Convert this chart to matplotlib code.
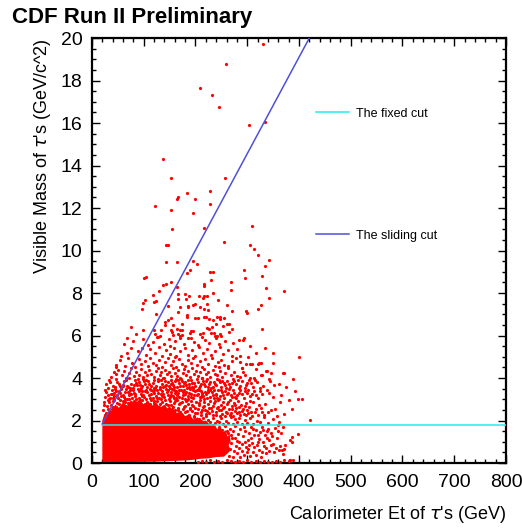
import numpy as np
import matplotlib
matplotlib.use('Agg')
import matplotlib.pyplot as plt
from matplotlib.ticker import MultipleLocator

plt.rcParams['font.family'] = ['Liberation Sans', 'DejaVu Sans']

# tau candidates: (Et [GeV], visible mass [GeV/c^2])
pts_high = [(330, 19.7), (259, 18.76), (208, 17.64), (232, 17.3), (246, 16.75), (303, 15.91),
            (334, 16.05), (138, 14.29), (153, 13.41), (258, 13.41), (184, 12.7), (229, 12.8),
            (167, 12.53), (164, 12.41), (200, 12.44), (228, 12.2), (122, 12.11), (153, 11.89),
            (196, 11.76), (309, 11.16), (155, 11.02), (217, 11.05)]

pts_upper = [(144, 10.28), (147, 10.28), (255, 10.41), (305, 10.28), (313, 10.09), (320, 9.8),
             (343, 9.56), (335, 9.29), (144, 9.48), (165, 9.47), (196, 9.53), (203, 9.35),
             (189, 9.07), (184, 8.96), (228, 9.0), (233, 9.0), (294, 9.07), (296, 8.71),
             (328, 8.82), (100, 8.71), (104, 8.76), (152, 8.5), (144, 8.44), (138, 8.38),
             (165, 8.27), (230, 8.6), (216, 8.43), (216, 8.32), (269, 8.52), (269, 8.16),
             (233, 8.02), (130, 8.1), (117, 7.92), (167, 7.96), (180, 7.96), (188, 7.86),
             (206, 7.85), (216, 7.85), (222, 7.85), (181, 7.74), (167, 7.7), (214, 7.77),
             (223, 7.5), (244, 7.66), (372, 8.08), (342, 7.77), (337, 8.22), (103, 7.67),
             (98, 7.53), (119, 7.59), (124, 7.61), (146, 7.41), (96, 7.25), (171, 7.33),
             (185, 7.35), (186, 7.4), (195, 7.44), (200, 7.47), (209, 7.36), (217, 7.26),
             (225, 7.2), (261, 7.42), (270, 7.14), (297, 7.17), (300, 7.08), (321, 7.23),
             (327, 7.42), (124, 7.01), (167, 7.09), (183, 6.98), (183, 6.89), (153, 6.84),
             (146, 6.75), (156, 6.51), (142, 6.64), (142, 6.48), (200, 6.83), (205, 6.81),
             (217, 6.85), (221, 6.85), (226, 6.78), (234, 6.75), (241, 6.85), (248, 6.85),
             (247, 6.76), (256, 6.83), (260, 6.52), (265, 6.52), (270, 6.32), (254, 6.43),
             (240, 6.54), (222, 6.37), (226, 6.32), (231, 6.38), (174, 6.54), (75, 6.42),
             (85, 6.08), (99, 6.24), (120, 6.27), (134, 6.27), (122, 6.08), (128, 5.93),
             (131, 5.96), (153, 6.27), (154, 6.16), (156, 6.04), (165, 6.31), (170, 6.27),
             (174, 6.24), (167, 6.08), (171, 6.0), (174, 6.03), (189, 6.1), (192, 6.2),
             (196, 6.2), (191, 5.9), (209, 6.07), (214, 6.14), (230, 6.12), (236, 6.12),
             (238, 5.97), (241, 5.97), (248, 6.05), (249, 5.98), (265, 6.16), (328, 6.3),
             (67, 5.88), (293, 5.87)]

pts_mid = [(62, 5.6), (80, 5.72), (99, 5.83), (108, 5.55), (117, 5.7), (125, 5.95), (140, 5.62),
           (148, 5.85), (160, 5.75), (178, 5.6), (186, 5.9), (198, 5.68), (205, 5.55), (218, 5.8),
           (227, 5.63), (239, 5.9), (246, 5.58), (258, 5.72), (272, 5.65), (285, 5.8), (292, 5.77),
           (305, 5.52), (150, 5.51), (170, 5.88), (212, 5.95),
           (67, 5.2), (89, 5.25), (96, 5.4), (104, 5.1), (112, 5.35), (121, 5.2), (129, 5.45),
           (136, 5.05), (143, 5.3), (151, 5.15), (158, 5.42), (163, 5.02), (171, 5.25), (179, 5.4),
           (185, 5.1), (193, 5.33), (199, 5.05), (207, 5.47), (214, 5.2), (222, 5.35), (230, 5.08),
           (238, 5.28), (247, 5.45), (253, 5.12), (262, 5.3), (270, 5.05), (280, 5.38), (287, 5.06),
           (302, 4.98), (317, 5.2), (334, 5.42), (349, 5.17), (401, 4.98), (57, 5.05), (75, 5.4),
           (47, 4.6), (55, 4.85), (63, 4.55), (70, 4.95), (78, 4.7), (84, 4.52), (90, 4.88),
           (95, 4.65), (102, 4.78), (108, 4.55), (113, 4.93), (118, 4.7), (124, 4.6), (130, 4.85),
           (135, 4.52), (141, 4.75), (146, 4.96), (152, 4.62), (157, 4.8), (162, 4.53), (168, 4.9),
           (174, 4.68), (180, 4.57), (185, 4.83), (191, 4.72), (196, 4.95), (202, 4.6), (208, 4.78),
           (213, 4.52), (219, 4.88), (225, 4.66), (231, 4.93), (237, 4.58), (243, 4.75), (250, 4.86),
           (256, 4.62), (263, 4.55), (270, 4.8), (278, 4.92), (290, 4.48), (297, 4.65), (305, 4.65),
           (309, 4.65), (321, 4.64), (323, 4.7), (327, 4.7), (350, 4.72), (287, 4.75), (245, 4.52),
           (160, 4.98),
           (36, 4.05), (42, 4.3), (46, 4.18), (51, 4.4), (58, 4.12), (61, 4.35), (66, 4.02),
           (72, 4.22), (76, 4.45), (81, 4.08), (86, 4.3), (91, 4.15), (94, 4.42), (99, 4.03),
           (103, 4.27), (107, 4.12), (111, 4.38), (115, 4.2), (119, 4.05), (123, 4.33), (127, 4.47),
           (131, 4.15), (134, 4.28), (138, 4.02), (142, 4.4), (145, 4.18), (149, 4.3), (153, 4.08),
           (156, 4.45), (160, 4.22), (164, 4.1), (167, 4.36), (171, 4.02), (175, 4.25), (178, 4.42),
           (182, 4.14), (186, 4.31), (189, 4.05), (193, 4.47), (197, 4.2), (201, 4.35), (205, 4.1),
           (209, 4.28), (213, 4.02), (217, 4.44), (221, 4.17), (225, 4.3), (229, 4.06), (233, 4.38),
           (238, 4.2), (242, 4.12), (247, 4.33), (252, 4.04), (257, 4.26), (262, 4.45), (268, 4.15),
           (274, 4.3), (280, 4.08), (286, 4.05), (289, 4.48), (292, 4.3), (296, 4.15), (306, 4.0),
           (313, 4.0), (317, 4.42), (326, 4.14), (328, 4.14), (336, 4.35), (339, 4.35), (345, 4.26),
           (370, 4.23), (372, 4.26), (46, 4.54)]

pts_low = [(30, 3.55), (35, 3.8), (41, 3.62), (47, 3.95), (52, 3.7), (57, 3.52), (62, 3.86),
           (67, 3.63), (71, 3.98), (75, 3.74), (79, 3.55), (83, 3.9), (87, 3.68), (91, 3.82),
           (95, 3.53), (98, 3.97), (102, 3.71), (106, 3.6), (109, 3.88), (113, 3.5), (117, 3.77),
           (120, 3.93), (124, 3.64), (128, 3.84), (131, 3.56), (135, 3.72), (139, 3.99), (142, 3.61),
           (146, 3.8), (150, 3.54), (153, 3.92), (157, 3.69), (161, 3.85), (164, 3.58), (168, 3.75),
           (172, 3.96), (176, 3.63), (179, 3.81), (183, 3.52), (187, 3.7), (191, 3.89), (194, 3.6),
           (198, 3.78), (202, 3.97), (206, 3.55), (210, 3.73), (214, 3.86), (218, 3.62), (222, 3.94),
           (226, 3.7), (230, 3.53), (235, 3.83), (240, 3.66), (245, 3.91), (250, 3.58), (255, 3.76),
           (261, 3.87), (266, 3.6), (272, 3.95), (278, 3.72), (284, 3.55), (290, 3.85), (297, 3.68),
           (304, 3.93), (311, 3.6), (319, 3.8), (342, 3.95), (344, 3.87), (361, 3.74), (389, 3.95),
           (60, 3.67), (73, 3.52), (85, 3.75), (93, 3.66), (100, 3.86), (111, 3.72), (122, 3.52),
           (133, 3.9), (144, 3.68), (155, 3.78), (166, 3.93), (177, 3.75), (188, 3.58), (200, 3.64),
           (212, 3.98), (224, 3.58), (237, 3.74), (248, 3.8), (259, 3.53), (270, 3.78), (282, 3.9),
           (295, 3.52), (308, 3.77), (330, 3.62), (38, 3.25), (60, 3.63),
           (27, 3.72), (33, 3.9), (44, 3.58), (49, 3.83), (55, 3.64), (65, 3.93), (69, 3.57),
           (82, 3.66), (89, 3.94), (97, 3.62), (104, 3.93), (115, 3.61), (119, 3.55), (127, 3.97),
           (137, 3.57), (141, 3.86), (148, 3.63), (152, 3.74), (159, 3.56), (163, 3.95), (170, 3.62),
           (174, 3.86), (181, 3.69), (185, 3.91), (193, 3.75), (196, 3.52), (204, 3.82), (208, 3.62),
           (216, 3.7), (220, 3.88), (228, 3.8), (233, 3.6), (242, 3.97), (252, 3.88), (257, 3.65),
           (264, 3.73), (275, 3.85), (287, 3.62), (300, 3.75), (315, 3.92), (325, 3.55), (352, 3.66),
           (375, 3.6),
           (25, 3.1), (28, 3.35), (32, 3.02), (36, 3.25), (38, 3.45), (43, 3.15), (46, 3.38),
           (50, 3.05), (54, 3.28), (57, 3.47), (61, 3.12), (64, 3.33), (68, 3.03), (71, 3.22),
           (74, 3.44), (78, 3.08), (81, 3.3), (84, 3.17), (88, 3.48), (91, 3.06), (94, 3.27),
           (97, 3.4), (101, 3.13), (104, 3.01), (107, 3.35), (110, 3.2), (114, 3.46), (117, 3.08),
           (120, 3.31), (123, 3.15), (126, 3.42), (130, 3.04), (133, 3.25), (136, 3.37), (140, 3.1),
           (143, 3.49), (146, 3.22), (149, 3.02), (153, 3.34), (156, 3.16), (159, 3.43), (163, 3.07),
           (166, 3.29), (169, 3.12), (172, 3.45), (176, 3.2), (179, 3.03), (182, 3.36), (186, 3.14),
           (189, 3.48), (192, 3.26), (196, 3.05), (199, 3.38), (203, 3.18), (206, 3.44), (210, 3.09),
           (213, 3.31), (217, 3.01), (220, 3.23), (224, 3.46), (228, 3.12), (231, 3.35), (235, 3.06),
           (239, 3.27), (243, 3.42), (247, 3.14), (251, 3.32), (256, 3.04), (260, 3.24), (265, 3.47),
           (270, 3.1), (275, 3.3), (281, 3.18), (287, 3.42), (293, 3.07), (299, 3.28), (306, 3.15),
           (313, 3.38), (321, 3.06), (329, 3.25), (338, 3.45), (350, 3.12), (393, 3.4), (366, 3.2),
           (40, 3.06), (48, 3.2), (56, 3.14), (66, 3.47), (76, 3.24), (86, 3.02), (96, 3.17),
           (105, 3.44), (115, 3.27), (125, 3.05), (135, 3.15), (145, 3.33), (155, 3.49), (165, 3.2),
           (175, 3.32), (185, 3.03), (195, 3.43), (205, 3.27), (215, 3.15), (225, 3.33), (236, 3.45),
           (246, 3.03), (258, 3.37), (268, 3.2), (279, 3.04), (290, 3.23), (302, 3.45), (316, 3.18),
           (90, 3.38), (150, 3.1), (210, 3.4), (240, 3.18), (180, 3.24), (120, 3.46), (70, 3.36),
           (160, 3.3),
           (26, 3.42), (31, 3.22), (35, 3.05), (42, 3.31), (45, 3.48), (52, 3.4), (59, 3.22),
           (63, 3.01), (72, 3.31), (79, 3.43), (83, 3.26), (92, 3.45), (99, 3.22), (103, 3.38),
           (112, 3.05), (118, 3.38), (128, 3.28), (131, 3.48), (138, 3.23), (147, 3.45), (152, 3.2),
           (158, 3.06), (162, 3.38), (168, 3.45), (174, 3.08), (178, 3.42), (188, 3.3), (191, 3.1),
           (198, 3.22), (202, 3.46), (208, 3.13), (212, 3.21), (219, 3.36), (222, 3.05), (229, 3.44),
           (234, 3.2), (242, 3.07), (249, 3.43), (254, 3.18), (263, 3.3), (272, 3.42), (277, 3.12),
           (285, 3.3), (296, 3.4), (310, 3.25), (325, 3.4), (343, 3.3)]

pts_near_cut = [(22, 2.5), (24, 2.85), (27, 2.35), (29, 2.68), (31, 2.95), (34, 2.42), (36, 2.75),
                (39, 2.56), (41, 2.9), (44, 2.3), (46, 2.63), (49, 2.82), (51, 2.45), (54, 2.97),
                (56, 2.58), (59, 2.72), (61, 2.38), (64, 2.88), (66, 2.52), (69, 2.66), (71, 2.99),
                (74, 2.41), (76, 2.78), (79, 2.55), (81, 2.92), (84, 2.33), (86, 2.7), (89, 2.48),
                (91, 2.84), (94, 2.61), (96, 2.96), (99, 2.37), (101, 2.74), (104, 2.53), (106, 2.89),
                (109, 2.44), (111, 2.67), (114, 2.98), (116, 2.57), (119, 2.81), (121, 2.4), (124, 2.69),
                (126, 2.93), (129, 2.5), (131, 2.77), (134, 2.36), (136, 2.86), (139, 2.62), (141, 2.95),
                (144, 2.46), (146, 2.73), (149, 2.58), (151, 2.9), (154, 2.34), (156, 2.65), (159, 2.83),
                (161, 2.49), (164, 2.97), (166, 2.6), (169, 2.76), (171, 2.39), (174, 2.88), (176, 2.54),
                (179, 2.7), (181, 2.94), (184, 2.43), (186, 2.79), (189, 2.59), (191, 2.91), (194, 2.47),
                (196, 2.68), (199, 2.35), (201, 2.85), (204, 2.55), (206, 2.73), (209, 2.98), (211, 2.42),
                (214, 2.64), (216, 2.87), (219, 2.51), (221, 2.31), (224, 2.76), (226, 2.6), (229, 2.92),
                (231, 2.45), (234, 2.69), (236, 2.83), (239, 2.38), (241, 2.57), (244, 2.95), (246, 2.48),
                (249, 2.72), (251, 2.33), (254, 2.86), (256, 2.62), (259, 2.41), (261, 2.78), (264, 2.52),
                (266, 2.96), (269, 2.36), (271, 2.67), (274, 2.84), (276, 2.45), (279, 2.6), (282, 2.9),
                (285, 2.4), (288, 2.73), (291, 2.55), (294, 2.3), (297, 2.82), (300, 2.5), (304, 2.65),
                (308, 2.38), (312, 2.88), (317, 2.55), (322, 2.72), (328, 2.42), (335, 2.8), (345, 2.5),
                (354, 2.55), (371, 2.33), (386, 2.53), (421, 2.03), (380, 2.96), (399, 2.99), (406, 2.99),
                (23, 2.72), (26, 2.25), (30, 2.55), (33, 2.87), (37, 2.27), (40, 2.65), (43, 2.98),
                (47, 2.52), (50, 2.29), (53, 2.77), (57, 2.4), (60, 2.93), (63, 2.6), (67, 2.26),
                (70, 2.83), (73, 2.55), (77, 2.35), (80, 2.66), (83, 2.86), (87, 2.28), (90, 2.58),
                (93, 2.95), (97, 2.45), (100, 2.22), (103, 2.8), (107, 2.62), (110, 2.32), (113, 2.76),
                (117, 2.43), (120, 2.9), (123, 2.53), (127, 2.27), (130, 2.64), (133, 2.99), (137, 2.48),
                (140, 2.3), (143, 2.8), (147, 2.55), (150, 2.25), (153, 2.71), (157, 2.41), (160, 2.92),
                (163, 2.29), (167, 2.5), (170, 2.82), (173, 2.24), (177, 2.63), (180, 2.4), (183, 2.96),
                (187, 2.27), (190, 2.52), (193, 2.74), (197, 2.22), (200, 2.6), (203, 2.37), (207, 2.81),
                (210, 2.25), (213, 2.5), (217, 2.7), (220, 2.21), (223, 2.45), (227, 2.35), (230, 2.58),
                (233, 2.24), (237, 2.93), (240, 2.28), (243, 2.66), (247, 2.2), (250, 2.5), (253, 2.6),
                (257, 2.23), (260, 2.37), (263, 2.88), (267, 2.27), (270, 2.52), (273, 2.2), (277, 2.73),
                (280, 2.35), (284, 2.62), (287, 2.24), (290, 2.45), (295, 2.7), (298, 2.25), (302, 2.35),
                (306, 2.93), (310, 2.2), (315, 2.4), (320, 2.28), (326, 2.6), (332, 2.25), (340, 2.38),
                (358, 2.2), (364, 2.85),
                (152, 2.05), (158, 2.15), (163, 1.98), (168, 2.12), (174, 2.02), (178, 2.18), (183, 1.96),
                (188, 2.1), (193, 2.0), (197, 2.16), (202, 1.9), (206, 2.06), (211, 1.98), (215, 2.14),
                (220, 1.86), (224, 2.04), (228, 1.95), (233, 2.12), (237, 1.88), (241, 2.0), (246, 1.92),
                (250, 2.1), (254, 1.84), (259, 2.0), (263, 1.9), (268, 2.15), (272, 1.83), (276, 2.05),
                (281, 1.95), (285, 2.12), (290, 1.86), (295, 2.02), (300, 1.9), (306, 2.1), (312, 1.85),
                (318, 2.0), (325, 1.92), (333, 2.15), (341, 1.88), (350, 2.05), (362, 1.95)]

pts_right = [(245, 1.7), (252, 1.55), (258, 1.75), (262, 1.4), (266, 1.62), (270, 1.2), (273, 1.5),
             (276, 1.72), (280, 1.05), (283, 1.35), (286, 1.6), (289, 0.9), (292, 1.25), (295, 1.5),
             (298, 0.75), (301, 1.1), (304, 1.42), (307, 1.68), (310, 0.95), (313, 1.3), (316, 1.55),
             (319, 0.85), (322, 1.15), (325, 1.45), (328, 1.7), (331, 1.0), (334, 1.32), (337, 0.7),
             (340, 1.58), (343, 1.1), (346, 1.4), (350, 0.9), (354, 1.65), (358, 1.2), (359, 1.5),
             (363, 0.8), (366, 1.4), (370, 1.7), (359, 1.8), (373, 0.83), (371, 0.66), (370, 0.42),
             (362, 0.6), (367, 0.6), (386, 1.24), (383, 1.08), (386, 0.98), (399, 1.35),
             (255, 0.5), (258, 0.8), (261, 1.1), (264, 0.35), (267, 0.65), (269, 0.95), (272, 0.3),
             (275, 0.55), (278, 0.8), (281, 0.45), (284, 0.7), (287, 0.3), (290, 0.55), (293, 0.4),
             (296, 1.0), (299, 0.5), (302, 0.65), (305, 0.35), (308, 1.2), (311, 0.5), (314, 0.75),
             (317, 0.4), (320, 1.0), (323, 0.6), (326, 0.3), (329, 0.5), (332, 0.8), (336, 0.45),
             (339, 1.2), (342, 0.55), (345, 0.85), (348, 1.25), (352, 0.5), (356, 0.7), (261, 1.5),
             (268, 1.3), (277, 1.2), (285, 1.0), (294, 1.7), (303, 0.85), (312, 1.6), (321, 1.3),
             (330, 1.55), (338, 1.5),
             (205, 0.06), (212, 0.1), (220, 0.05), (228, 0.12), (236, 0.07), (244, 0.1), (252, 0.05),
             (260, 0.12), (268, 0.08), (276, 0.05), (284, 0.1), (292, 0.06), (300, 0.12), (308, 0.05),
             (316, 0.09), (324, 0.06), (332, 0.11), (340, 0.07), (348, 0.05), (356, 0.1), (364, 0.06),
             (372, 0.12), (380, 0.08), (389, 0.16), (383, 0.13)]

# outline of the saturated core where the points merge into solid red
core_et = [20, 20, 24, 28, 33, 38, 45, 52, 60, 68, 75, 84, 92, 100, 108, 116, 124, 132, 140,
           148, 156, 164, 172, 180, 188, 196, 204, 212, 220, 228, 236, 242, 248, 254, 258, 262,
           266, 268, 264, 268, 262, 255, 240, 225, 210, 195, 180, 160, 120, 80]
core_m = [0.05, 2.0, 2.3, 2.2, 2.55, 2.45, 2.75, 2.6, 2.85, 2.7, 2.95, 2.8, 3.0, 2.75, 2.9,
          2.7, 2.85, 2.6, 2.75, 2.5, 2.6, 2.35, 2.45, 2.2, 2.3, 2.05, 2.15, 1.95, 2.0, 1.8, 1.85,
          1.6, 1.7, 1.45, 1.55, 1.25, 1.35, 1.0, 0.85, 0.6, 0.45, 0.3, 0.28, 0.22, 0.2, 0.15,
          0.12, 0.1, 0.06, 0.05]

# the two cuts
fixed_et = [20, 800]
fixed_m = [1.78, 1.78]
sliding_et = [20, 420]
sliding_m = [1.85, 20.0]

fig = plt.figure(figsize=(5.22, 5.31), dpi=100)
ax = fig.add_axes([0.1762, 0.128, 0.7931, 0.8004])

ax.fill(core_et, core_m, color='red', lw=0, zorder=2)
for pts in [pts_high, pts_upper, pts_mid, pts_low, pts_near_cut, pts_right]:
    arr = np.array(pts)
    ax.plot(arr[:, 0], arr[:, 1], 'o', color='red', ms=2.3, mew=0, zorder=3)

ax.plot(fixed_et, fixed_m, color='#22eeee', lw=1.1, zorder=4, label='The fixed cut')
ax.plot(sliding_et, sliding_m, color='#5050d8', lw=1.1, zorder=4, label='The sliding cut')

ax.set_xlim(0, 800)
ax.set_ylim(0, 20)
ax.xaxis.set_major_locator(MultipleLocator(100))
ax.xaxis.set_minor_locator(MultipleLocator(20))
ax.yaxis.set_major_locator(MultipleLocator(2))
ax.yaxis.set_minor_locator(MultipleLocator(0.5))
ax.tick_params(which='both', direction='in', top=True, right=True, width=1.0)
ax.tick_params(which='major', length=5.5, labelsize=14)
ax.tick_params(which='minor', length=3)
ax.tick_params(axis='x', which='major', pad=8)
ax.tick_params(axis='y', which='major', pad=7)
for side in ['top', 'bottom', 'left', 'right']:
    ax.spines[side].set_linewidth(1.6)

ax.set_xlabel("Calorimeter Et of $\\tau$'s (GeV)", fontsize=13, loc='right')
ax.set_ylabel("Visible Mass of $\\tau$'s (GeV/c^2)", fontsize=13, loc='top')
ax.xaxis.set_label_coords(1.0, -0.097)
ax.yaxis.set_label_coords(-0.094, 1.0)

ax.legend(loc='upper left', bbox_to_anchor=(0.541, 0.836), frameon=False, fontsize=9,
          labelspacing=8.8, handlelength=2.65, handletextpad=0.55, borderpad=0, borderaxespad=0)

fig.text(12 / 522, 1 - 23 / 531, 'CDF Run II Preliminary', fontsize=16, fontweight='bold',
         va='baseline', ha='left')

fig.savefig('out.png', dpi=100)
